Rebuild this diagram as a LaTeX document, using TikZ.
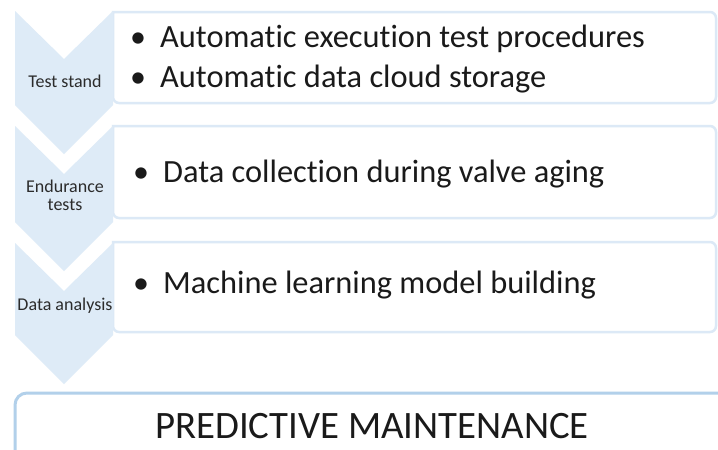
\documentclass[tikz,border=0pt]{standalone}
\usepackage{fontspec}
\setmainfont[Ligatures=NoCommon]{Carlito}
\definecolor{chev}{HTML}{DEEBF7}
\definecolor{boxline}{HTML}{DCE9F6}
\definecolor{pmline}{HTML}{B2D0EA}
\definecolor{txt}{HTML}{1A1A1A}
\definecolor{lbl}{HTML}{2B2B2B}
\begin{document}
\begin{tikzpicture}[x=1pt,y=-1pt,
  itembox/.style={draw=boxline,line width=2.5pt,fill=white},
  chevshape/.style={fill=chev,draw=none},
  bul/.style={anchor=base,inner sep=0pt,text=txt,font=\fontsize{32}{38}\selectfont},
  itemtext/.style={anchor=base west,inner sep=0pt,text=txt,font=\fontsize{32.4}{38}\selectfont},
  lbltext/.style={anchor=base,inner sep=0pt,text=lbl,font=\fontsize{18}{21}\selectfont},
  pmtext/.style={anchor=base,inner sep=0pt,text=txt,font=\fontsize{38.8}{44}\selectfont}]
\clip (0,0) rectangle (718,450);
\fill[white] (0,0) rectangle (718,450);
% item boxes
\foreach \t/\b in {12/103,126/218,242/332}{
  \draw[itembox,rounded corners=6pt] (113,\t) -- (716,\t) -- (716,\b) -- (113,\b) [sharp corners] -- cycle;
}
% chevrons
\foreach \t/\b in {11/105,126/222,243/335}{
  \fill[chevshape] (15,\t) -- (64,{\t+48}) -- (113,\t) -- (113,\b) -- (64,{\b+49}) -- (15,\b) -- cycle;
}
% labels
\node[lbltext] (l1) at (65,87) {Test stand};
\node[lbltext] (l2a) at (65,192) {Endurance};
\node[lbltext] (l2b) at (65,210) {tests};
\node[lbltext] (l3) at (65,310) {Data analysis};
% bullets
\node[bul] (b1) at (138,47) {•};
\node[itemtext] (t1) at (160,47) {Automatic execution test procedures};
\node[bul] (b2) at (138,87) {•};
\node[itemtext] (t2) at (160,87) {Automatic data cloud storage};
\node[bul] (b3) at (141,182) {•};
\node[itemtext] (t3) at (163,182) {Data collection during valve aging};
\node[bul] (b4) at (141,293) {•};
\node[itemtext] (t4) at (163,293) {Machine learning model building};
% bottom box
\draw[draw=pmline,line width=3pt,fill=white,rounded corners=12pt] (15,470) -- (15,393) -- (740,393);
\node[pmtext] (pm) at (372,438) {PREDICTIVE MAINTENANCE};
\end{tikzpicture}
\end{document}
